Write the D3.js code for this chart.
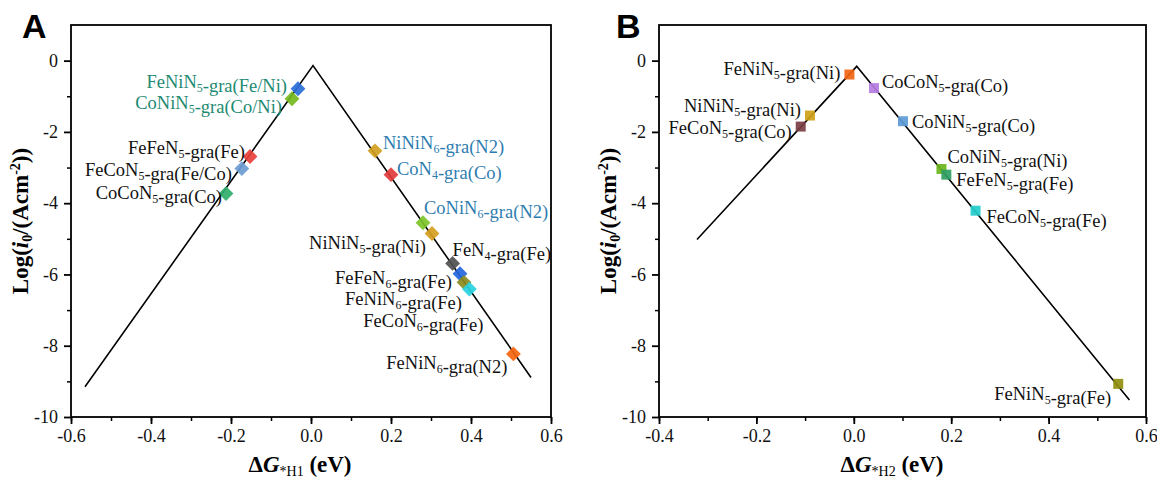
<!DOCTYPE html>
<html><head><meta charset="utf-8">
<script src="https://cdn.jsdelivr.net/npm/d3@7"></script>
<style>body{margin:0;background:#fff}svg{display:block}</style>
</head><body>
<svg id="c" width="1157" height="481"></svg>
<script>
// ---------- Data ----------
// Panel A (ΔG*H1)
const namesA = ["FeNiN_5-gra(Fe/Ni)","CoNiN_5-gra(Co/Ni)","FeFeN_5-gra(Fe)","FeCoN_5-gra(Fe/Co)","CoCoN_5-gra(Co)",
  "NiNiN_6-gra(N2)","CoN_4-gra(Co)","CoNiN_6-gra(N2)","NiNiN_5-gra(Ni)","FeN_4-gra(Fe)",
  "FeFeN_6-gra(Fe)","FeNiN_6-gra(Fe)","FeCoN_6-gra(Fe)","FeNiN_6-gra(N2)"];
const dGA = [-0.0325,-0.0475,-0.1525,-0.173,-0.2125,0.16,0.20,0.28,0.3025,0.354,0.3725,0.3825,0.396,0.506];
const logA = [-0.79,-1.07,-2.69,-3.03,-3.73,-2.53,-3.20,-4.55,-4.85,-5.69,-5.98,-6.22,-6.41,-8.23];
const volcanoA = [[-0.565,-9.15],[0.005,-0.14],[0.55,-8.89]];

// Panel B (ΔG*H2)
const namesB = ["FeNiN_5-gra(Ni)","CoCoN_5-gra(Co)","NiNiN_5-gra(Ni)","FeCoN_5-gra(Co)","CoNiN_5-gra(Co)",
  "CoNiN_5-gra(Ni)","FeFeN_5-gra(Fe)","FeCoN_5-gra(Fe)","FeNiN_5-gra(Fe)"];
const dGB = [-0.009,0.0415,-0.09,-0.109,0.101,0.18,0.19,0.25,0.543];
const logB = [-0.39,-0.77,-1.54,-1.85,-1.70,-3.04,-3.20,-4.21,-9.07];
const volcanoB = [[-0.322,-5.02],[0.006,-0.16],[0.566,-9.52]];

const xTicksA = [-0.6,-0.4,-0.2,0.0,0.2,0.4,0.6];
const xTicksB = [-0.4,-0.2,0.0,0.2,0.4,0.6];
const yTicks = [0,-2,-4,-6,-8,-10];

// ---------- Styles / layout ----------
const markerColorsA = ["#2a6fd8","#74b91c","#e8413a","#6c9bd4","#2fae6a","#d2a01e","#e23b3b","#7cc42a","#d69e1e","#505050","#2266dd","#8a8a1e","#27d1e0","#f5650f"];
const labelColorsA = ["#1e8a72","#1e8a72","#111","#111","#111","#2f7db0","#2f7db0","#2f7db0","#111","#111","#111","#111","#111","#111"];
const labelPlaceA = [["end",-11,-1],["end",-10,10],["end",-5,-2],["end",-10,7],["end",-4,5],
  ["start",8,-2],["start",6,0],["start",1,-9],["end",-6,16],["start",0,-7],
  ["end",-8,10],["end",-2,23],["end",14,38],["end",-6,15]];
const markerColorsB = ["#f26511","#b57be0","#cfa21a","#7a3e42","#5d9bd6","#6ab61a","#2e9e62","#22cccc","#8f8f10"];
const labelPlaceB = [["end",-9,0],["start",8,0],["end",-9,-4],["end",-9,7],["start",9,7],
  ["start",6,-6],["start",10,11],["start",11,12],["end",-7,16]];

const svg = d3.select("#c");
const serif = "'Liberation Serif','Times New Roman',serif";
const fmt1 = v => d3.format(".1f")(v).replace("−","-");
const fmt0 = v => d3.format("d")(v).replace("−","-");

function richText(sel, str){
  const parts = str.split(/_(.)/);
  parts.forEach((p,i)=>{
    if(!p) return;
    if(i%2===1){
      sel.append("tspan").attr("font-size","12px").attr("dy",4).text(p);
      sel.append("tspan").attr("dy",-4).text("");
    } else sel.append("tspan").text(p);
  });
}

function panel(opt){
  const {x0,x1,y0,y1,xdom,xticks,names,xs,ys,volcano,mcol,lcol,lplace,diamond,letter,letterX,xlabSub,xTitleX} = opt;
  const x = d3.scaleLinear().domain(xdom).range([x0,x1]);
  const y = d3.scaleLinear().domain([-10,1]).range([y1,y0]);
  const g = svg.append("g");

  g.append("rect").attr("x",x0).attr("y",y0).attr("width",x1-x0).attr("height",y1-y0)
    .attr("fill","none").attr("stroke","#000").attr("stroke-width",1.8);

  const minorX = d3.range(Math.round(xdom[0]*10), Math.round(xdom[1]*10)+1).map(v=>v/10);
  const xa = g.append("g").attr("transform",`translate(0,${y1})`)
    .call(d3.axisBottom(x).tickValues(minorX).tickSize(4).tickFormat(""));
  xa.select(".domain").remove();
  xa.selectAll("line").attr("stroke-width",1.5);
  const xa2 = g.append("g").attr("transform",`translate(0,${y1})`)
    .call(d3.axisBottom(x).tickValues(xticks).tickSize(7).tickPadding(5).tickFormat(fmt1));
  xa2.select(".domain").remove();
  xa2.selectAll("line").attr("stroke-width",1.8);
  xa2.selectAll("text").attr("font-family",serif).attr("font-size","18px").attr("fill","#111");

  const ya = g.append("g").attr("transform",`translate(${x0},0)`)
    .call(d3.axisLeft(y).tickValues(d3.range(-9,1,2)).tickSize(4).tickFormat(""));
  ya.select(".domain").remove();
  ya.selectAll("line").attr("stroke-width",1.5);
  const ya2 = g.append("g").attr("transform",`translate(${x0},0)`)
    .call(d3.axisLeft(y).tickValues(yTicks).tickSize(7).tickPadding(6).tickFormat(fmt0));
  ya2.select(".domain").remove();
  ya2.selectAll("line").attr("stroke-width",1.8);
  ya2.selectAll("text").attr("font-family",serif).attr("font-size","18px").attr("fill","#111");

  g.append("path").datum(volcano)
    .attr("d",d3.line().x(d=>x(d[0])).y(d=>y(d[1])))
    .attr("fill","none").attr("stroke","#000").attr("stroke-width",1.6);

  const sym = d3.symbol().type(d3.symbolSquare).size(diamond?110:100);
  names.forEach((n,i)=>{
    g.append("path").attr("d",sym())
      .attr("transform",`translate(${x(xs[i])},${y(ys[i])}) rotate(${diamond?45:0})`)
      .attr("fill",mcol[i]).attr("opacity",0.92);
  });
  names.forEach((n,i)=>{
    const [anc,dx,dy] = lplace[i];
    const t = g.append("text").attr("x",x(xs[i])+dx).attr("y",y(ys[i])+dy)
      .attr("text-anchor",anc).attr("font-family",serif).attr("font-size","18.5px")
      .attr("fill",lcol? lcol[i] : "#111");
    richText(t,n);
  });

  svg.append("text").attr("x",letterX).attr("y",38).attr("font-family","'Liberation Sans',Arial,sans-serif")
    .attr("font-size","34px").attr("font-weight","bold").attr("fill","#000").text(letter);

  const xt = svg.append("text").attr("x",xTitleX).attr("y",472).attr("text-anchor","middle")
    .attr("font-family",serif).attr("font-size","23px").attr("font-weight","bold").attr("fill","#000");
  xt.append("tspan").text("Δ");
  xt.append("tspan").attr("font-style","italic").text("G");
  xt.append("tspan").attr("font-size","14px").attr("font-weight","normal").attr("dy",4).text("*H"+xlabSub);
  xt.append("tspan").attr("dy",-4).text(" (eV)");

  const yt = svg.append("text").attr("transform",`translate(${x0-43},${(y0+y1)/2}) rotate(-90)`)
    .attr("text-anchor","middle").attr("font-family",serif).attr("font-size","23px")
    .attr("font-weight","bold").attr("fill","#000");
  yt.append("tspan").text("Log(");
  yt.append("tspan").attr("font-style","italic").text("i");
  yt.append("tspan").attr("font-size","14px").attr("dy",4).text("0");
  yt.append("tspan").attr("dy",-4).text("/(Acm");
  yt.append("tspan").attr("font-size","14px").attr("dy",-8).text("-2");
  yt.append("tspan").attr("dy",8).text("))");
}

panel({x0:71,x1:551,y0:25,y1:417,xdom:[-0.6,0.6],xticks:xTicksA,names:namesA,xs:dGA,ys:logA,volcano:volcanoA,
  mcol:markerColorsA,lcol:labelColorsA,lplace:labelPlaceA,diamond:true,letter:"A",letterX:22,xlabSub:"1",xTitleX:300});
panel({x0:659,x1:1146,y0:25,y1:417,xdom:[-0.4,0.6],xticks:xTicksB,names:namesB,xs:dGB,ys:logB,volcano:volcanoB,
  mcol:markerColorsB,lcol:null,lplace:labelPlaceB,diamond:false,letter:"B",letterX:616,xlabSub:"2",xTitleX:892});
</script>
</body></html>
